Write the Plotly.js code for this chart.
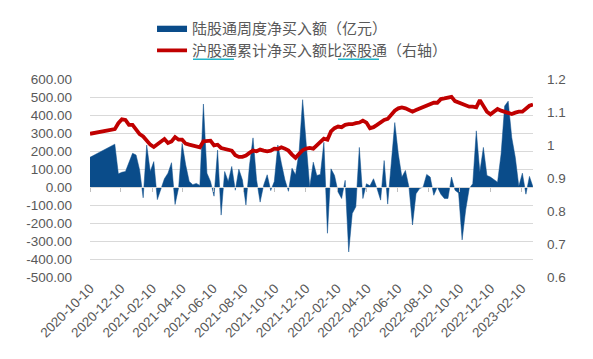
<!DOCTYPE html>
<html>
<head>
<meta charset="utf-8">
<script src="https://cdn.plot.ly/plotly-3.0.1.min.js"></script>
<style>
html,body{margin:0;padding:0;background:#fff;}
#chart{width:593px;height:359px;}
</style>
</head>
<body>
<div id="chart"></div>
<script>
// ---- data ----
const weekDates = [
'2020-10-10','2020-11-28','2020-12-05','2020-12-12','2020-12-19','2020-12-26',
'2021-01-02','2021-01-09','2021-01-16','2021-01-23','2021-01-30','2021-02-06','2021-02-13','2021-02-20','2021-02-27',
'2021-03-06','2021-03-13','2021-03-20','2021-03-27','2021-04-03','2021-04-10','2021-04-17','2021-04-24',
'2021-05-01','2021-05-08','2021-05-15','2021-05-22','2021-05-29','2021-06-05','2021-06-12','2021-06-19','2021-06-26',
'2021-07-03','2021-07-10','2021-07-17','2021-07-24','2021-07-31','2021-08-07','2021-08-14','2021-08-21','2021-08-28',
'2021-09-04','2021-09-11','2021-09-18','2021-09-25','2021-10-02','2021-10-09','2021-10-16','2021-10-23','2021-10-30',
'2021-11-06','2021-11-13','2021-11-20','2021-11-27','2021-12-04','2021-12-11','2021-12-18','2021-12-25',
'2022-01-01','2022-01-08','2022-01-15','2022-01-22','2022-01-29','2022-02-05','2022-02-12','2022-02-19','2022-02-26',
'2022-03-05','2022-03-12','2022-03-19','2022-03-26','2022-04-02','2022-04-09','2022-04-16','2022-04-23','2022-04-30',
'2022-05-07','2022-05-14','2022-05-21','2022-05-28','2022-06-04','2022-06-11','2022-06-18','2022-06-25',
'2022-07-02','2022-07-09','2022-07-16','2022-07-23','2022-07-30','2022-08-06','2022-08-13','2022-08-20','2022-08-27',
'2022-09-03','2022-09-10','2022-09-17','2022-09-24','2022-10-01','2022-10-08','2022-10-15','2022-10-22','2022-10-29',
'2022-11-05','2022-11-12','2022-11-19','2022-11-26','2022-12-03','2022-12-10','2022-12-17','2022-12-24','2022-12-31',
'2023-01-07','2023-01-14','2023-01-21','2023-01-28','2023-02-04','2023-02-11','2023-02-18','2023-02-25','2023-03-04'
];
const weeklyNetBuy = [
165,238,73,82,86,137,
187,178,95,-60,233,86,141,-70,-5,
46,77,135,-97,-5,242,123,31,
13,20,9,461,77,31,-51,205,-156,
86,31,114,-18,99,40,-100,120,273,
40,-84,10,68,-20,30,233,132,40,
-24,104,68,196,485,240,0,138,
64,70,248,-257,101,64,-28,-64,37,
-361,-147,-110,220,-64,18,7,46,-9,
-73,147,-95,130,358,183,55,92,
0,-211,-37,-9,0,70,55,-46,0,
-40,-64,-64,55,-18,-33,-294,-128,-9,
18,312,83,220,64,55,42,27,183,
450,477,275,165,4,77,-40,59,0
];
const shVsSzRatio = [
1.034,1.048,1.066,1.078,1.076,1.061,
1.061,1.046,1.033,1.026,1.013,1.001,0.994,1.001,1.009,
1.018,1.006,1.011,1.024,1.016,1.016,1.004,1.001,
0.999,0.996,0.993,1.011,1.013,1.013,0.999,1.001,0.991,
0.988,0.986,0.983,0.969,0.964,0.964,0.968,0.976,0.983,
0.981,0.986,0.983,0.981,0.983,0.989,0.988,0.993,0.989,
0.983,0.971,0.961,0.973,0.984,0.989,0.991,0.989,
0.998,1.008,1.019,1.016,1.041,1.051,1.056,1.054,1.061,
1.063,1.063,1.066,1.068,1.074,1.068,1.051,1.054,1.061,
1.068,1.076,1.079,1.091,1.104,1.111,1.114,1.111,
1.106,1.101,1.106,1.110,1.114,1.119,1.124,1.128,1.128,
1.139,1.141,1.144,1.146,1.133,1.128,1.124,1.119,1.116,
1.116,1.114,1.136,1.118,1.101,1.093,1.101,1.109,1.104,
1.101,1.096,1.094,1.098,1.101,1.101,1.111,1.119,1.123
];
const xTickDates = ['2020-10-10','2020-12-10','2021-02-10','2021-04-10','2021-06-10','2021-08-10','2021-10-10','2021-12-10','2022-02-10','2022-04-10','2022-06-10','2022-08-10','2022-10-10','2022-12-10','2023-02-10'];
const xTickLabels = xTickDates.slice();
const leftTicks = [-500,-400,-300,-200,-100,0,100,200,300,400,500,600];
const leftTickLabels = leftTicks.map(v => v.toFixed(2));
const rightTicks = [0.6,0.7,0.8,0.9,1.0,1.1,1.2];
const rightTickLabels = ['0.6','0.7','0.8','0.9','1','1.1','1.2'];
const seriesNames = ['陆股通周度净买入额（亿元）','沪股通累计净买入额比深股通（右轴）'];

// ---- chart ----
const axisFont = {family:'"Liberation Sans", Arial, sans-serif', size:13.5, color:'#595959'};
const blue = '#0a4c8a', red = '#c00000';
const xRange = ['2020-10-10','2023-03-04'];

const traces = [
  {type:'scatter', mode:'lines', x:weekDates, y:weeklyNetBuy, name:seriesNames[0],
   fill:'tozeroy', fillcolor:blue, line:{color:blue, width:0.5}, xaxis:'x', yaxis:'y'},
  {type:'scatter', mode:'lines', x:[weekDates[0]], y:[0], showlegend:false, hoverinfo:'skip',
   line:{width:0}, xaxis:'x2', yaxis:'y'},
  {type:'scatter', mode:'lines', x:weekDates, y:shVsSzRatio, name:seriesNames[1],
   line:{color:red, width:3.8}, xaxis:'x', yaxis:'y2'}
];

const ulY = 1 + (76 - 56) / 201;
const layout = {
  width:593, height:359,
  margin:{l:90, r:60, t:76, b:82},
  paper_bgcolor:'#fff', plot_bgcolor:'#fff',
  showlegend:true,
  legend:{x:0.14, y:1.34, xanchor:'left', yanchor:'top', orientation:'v',
          font:{family:'"Noto Sans CJK SC", sans-serif', size:15, color:'#595959'},
          bgcolor:'rgba(0,0,0,0)'},
  xaxis:{type:'date', range:xRange, tickvals:xTickDates, ticktext:xTickLabels, tickangle:-45,
         showgrid:false, zeroline:false, showline:false, ticks:'', tickfont:axisFont},
  xaxis2:{type:'date', range:xRange, overlaying:'x', anchor:'free', position:500/1100,
          tickvals:xTickDates, showticklabels:false, ticks:'outside', ticklen:4, tickcolor:'#bfbfbf',
          showline:true, linecolor:'#d9d9d9', linewidth:1, showgrid:false, zeroline:false},
  yaxis:{range:[-500,600], tickvals:leftTicks, ticktext:leftTickLabels, showgrid:true,
         gridcolor:'#d9d9d9', gridwidth:1, zeroline:false, showline:false, ticks:'',
         tickfont:axisFont, ticklabelstandoff:17},
  yaxis2:{range:[0.6,1.2], tickvals:rightTicks, ticktext:rightTickLabels, overlaying:'y', side:'right',
          showgrid:false, zeroline:false, showline:false, ticks:'', tickfont:axisFont, ticklabelstandoff:13},
  shapes:[
    {type:'line', xref:'paper', yref:'paper', x0:(193-90)/443, x1:(234-90)/443, y0:ulY, y1:ulY,
     line:{color:'#22b4c8', width:1.5}},
    {type:'line', xref:'paper', yref:'paper', x0:(338-90)/443, x1:(379-90)/443, y0:ulY, y1:ulY,
     line:{color:'#22b4c8', width:1.5}}
  ]
};

Plotly.newPlot('chart', traces, layout, {staticPlot:true, displayModeBar:false});
</script>
</body>
</html>
